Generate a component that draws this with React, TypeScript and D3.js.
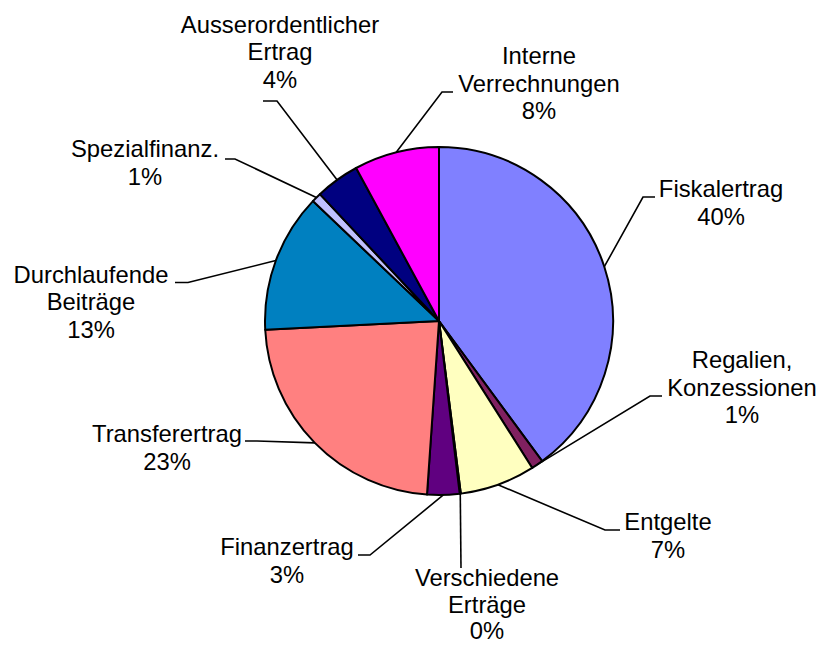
import React from "react";
import * as d3 from "d3";

const categories: string[][] = [
  ["Fiskalertrag"],
  ["Regalien,", "Konzessionen"],
  ["Entgelte"],
  ["Verschiedene", "Erträge"],
  ["Finanzertrag"],
  ["Transferertrag"],
  ["Durchlaufende", "Beiträge"],
  ["Spezialfinanz."],
  ["Ausserordentlicher", "Ertrag"],
  ["Interne", "Verrechnungen"],
];
const values: number[] = [39.9, 1.1, 7.0, 0.1, 3.0, 23.1, 12.9, 0.9, 4.1, 7.9];
const colors: string[] = [
  "#8080FF", "#802060", "#FFFFC0", "#A0E0E0", "#600080",
  "#FF8080", "#0080C0", "#C0C0FF", "#000080", "#FF00FF",
];

// label layout: text center x, first baseline y, line height, leader elbow, leader end
const labelLayout = [
  { x: 721, y: 197, lh: 27.5, elbow: [643, 197], end: [655, 197] },
  { x: 742, y: 368, lh: 27.5, elbow: [650, 396], end: [662, 396] },
  { x: 668, y: 530, lh: 27.5, elbow: [605, 530], end: [620, 530] },
  { x: 487, y: 586, lh: 26.5, elbow: [461, 568], end: [461, 568] },
  { x: 287, y: 555, lh: 27.5, elbow: [370, 555], end: [358, 555] },
  { x: 167, y: 442, lh: 27.5, elbow: [257, 441], end: [245, 441] },
  { x: 91, y: 282.5, lh: 27.5, elbow: [188, 282.5], end: [175, 282.5] },
  { x: 145, y: 157, lh: 27.5, elbow: [235, 159], end: [225, 159] },
  { x: 280, y: 32.5, lh: 27.5, elbow: [277, 101], end: [263, 101] },
  { x: 539, y: 64, lh: 27.5, elbow: [442, 92], end: [453, 92] },
];

const W = 818;
const H = 646;
const CX = 439;
const CY = 321;
const R = 174;

export default function App() {
  const total = d3.sum(values);
  const pie = d3.pie<number>().sort(null).value((d) => d).startAngle(0).endAngle(2 * Math.PI);
  const arcs = pie(values);
  const arc = d3.arc<d3.PieArcDatum<number>>().innerRadius(0).outerRadius(R);

  return (
    <svg
      width={W}
      height={H}
      style={{ position: "absolute", left: 0, top: 0, background: "#fff" }}
      fontFamily="'Liberation Sans', Arial, sans-serif"
    >
      <rect width={W} height={H} fill="#fff" />
      <g transform={`translate(${CX},${CY})`}>
        {arcs.map((a, i) => (
          <path key={i} d={arc(a) || ""} fill={colors[i]} stroke="#000" strokeWidth={2} strokeLinejoin="round" />
        ))}
      </g>
      {arcs.map((a, i) => {
        const mid = (a.startAngle + a.endAngle) / 2;
        const px = CX + R * Math.sin(mid);
        const py = CY - R * Math.cos(mid);
        const L = labelLayout[i];
        const pts: [number, number][] = [[px, py], [L.elbow[0], L.elbow[1]], [L.end[0], L.end[1]]];
        return (
          <path
            key={"l" + i}
            d={d3.line()(pts) || ""}
            fill="none"
            stroke="#000"
            strokeWidth={1.6}
          />
        );
      })}
      {arcs.map((a, i) => {
        const L = labelLayout[i];
        const lines = [...categories[i], `${Math.round((values[i] / total) * 100)}%`];
        return (
          <text key={"t" + i} x={L.x} y={L.y} textAnchor="middle" fontSize={23.8} fill="#000">
            {lines.map((s, j) => (
              <tspan key={j} x={L.x} y={L.y + j * L.lh}>
                {s}
              </tspan>
            ))}
          </text>
        );
      })}
    </svg>
  );
}
